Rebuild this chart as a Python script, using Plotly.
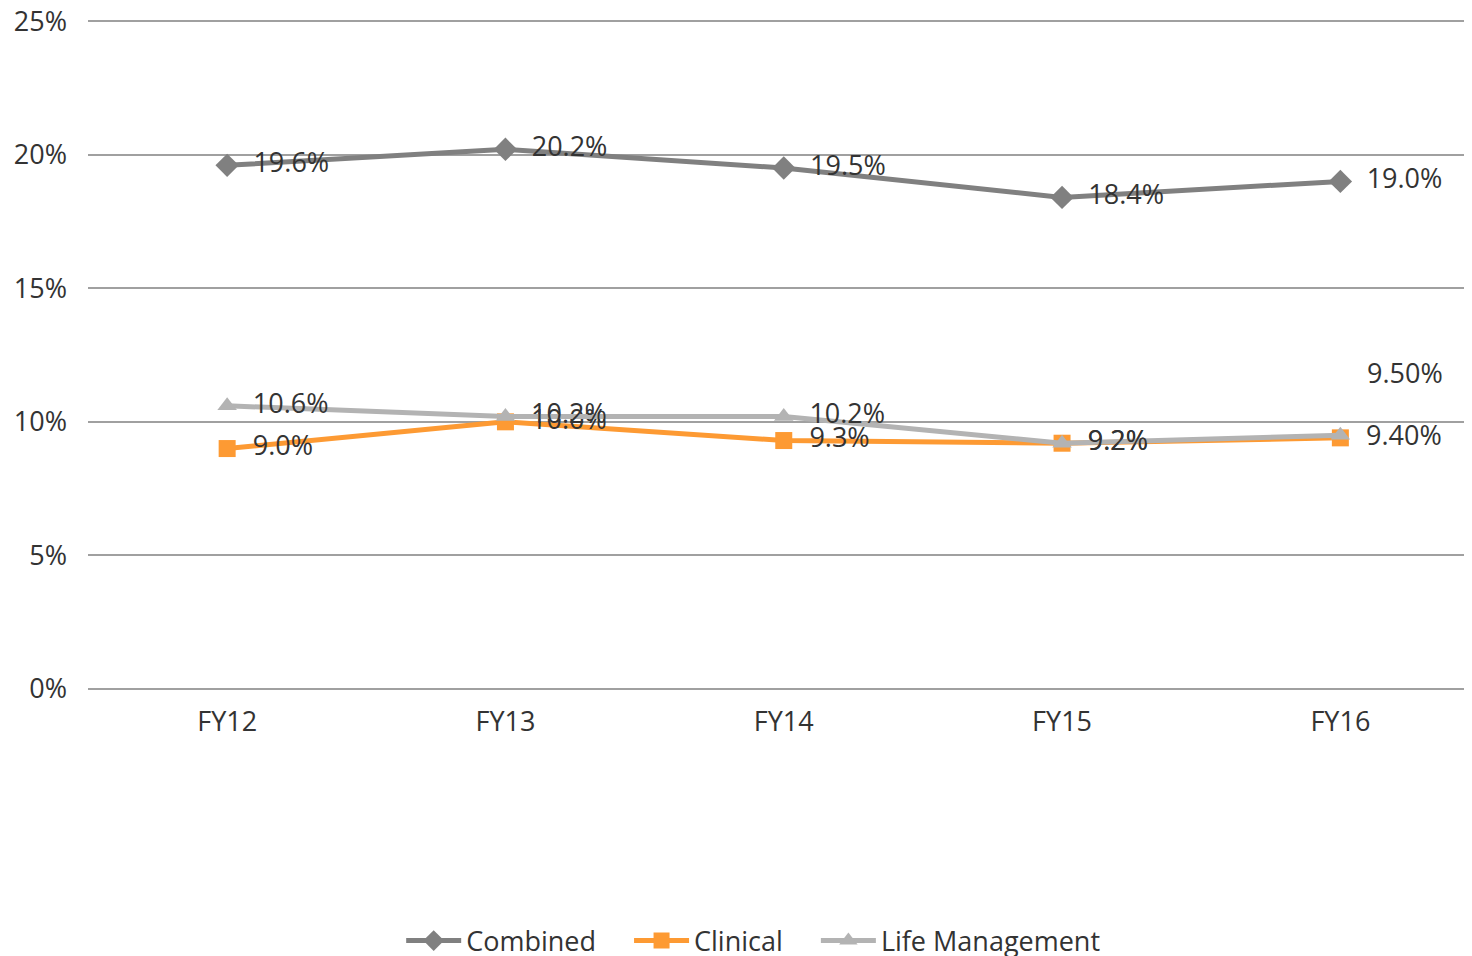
import plotly.graph_objects as go

years = ["FY12", "FY13", "FY14", "FY15", "FY16"]

combined = [19.6, 20.2, 19.5, 18.4, 19.0]
combined_labels = ["19.6%", "20.2%", "19.5%", "18.4%", "19.0%"]

clinical = [9.0, 10.0, 9.3, 9.2, 9.4]
clinical_labels = ["9.0%", "10.0%", "9.3%", "9.2%", "9.40%"]

life_mgmt = [10.6, 10.2, 10.2, 9.2, 9.5]
life_labels = ["10.6%", "10.2%", "10.2%", "9.2%", "9.50%"]

FONT = "Open Sans"
TEXT_COLOR = "#333333"
PAD = "\u00a0\u00a0"  # gap between marker and its label
GAP = "\u00a0" * 4    # space between legend items

fig = go.Figure()

fig.add_trace(go.Scatter(
    x=years, y=combined, name="Combined" + GAP, mode="lines+markers+text",
    line=dict(color="#808080", width=5),
    marker=dict(symbol="diamond", size=18, color="#808080"),
    text=combined_labels, texttemplate=PAD + "%{text}", textposition="middle right",
    textfont=dict(size=27, color=TEXT_COLOR, family=FONT),
))
fig.add_trace(go.Scatter(
    x=years, y=clinical, name="Clinical" + GAP, mode="lines+markers+text",
    line=dict(color="#fd9a33", width=5),
    marker=dict(symbol="square", size=17, color="#fd9a33"),
    text=clinical_labels, texttemplate=PAD + "%{text}", textposition="middle right",
    textfont=dict(size=27, color=TEXT_COLOR, family=FONT),
))
# last Life Management label sits well above its point, drawn as annotation
fig.add_trace(go.Scatter(
    x=years, y=life_mgmt, name="Life Management", mode="lines+markers+text",
    line=dict(color="#b3b3b3", width=5),
    marker=dict(symbol="triangle-up", size=17, color="#b3b3b3"),
    text=life_labels[:-1] + [""], texttemplate=PAD + "%{text}", textposition="middle right",
    textfont=dict(size=27, color=TEXT_COLOR, family=FONT),
))
fig.add_annotation(
    x=years[-1], y=life_mgmt[-1], text=life_labels[-1], showarrow=False,
    xanchor="left", xshift=25, yshift=63,
    font=dict(size=27, color=TEXT_COLOR, family=FONT),
)

# page body adds an 8px margin, so the figure is sized to end at the window edge;
# legend uses container refs so it doesn't push the bottom margin
fig.update_layout(
    width=1464, height=948,
    margin=dict(l=80, r=0, t=4, b=267),
    paper_bgcolor="white", plot_bgcolor="white",
    font=dict(family=FONT, size=27, color=TEXT_COLOR),
    showlegend=True,
    legend=dict(
        orientation="h", xref="container", yref="container",
        x=0.509, y=0.0158, xanchor="center", yanchor="middle",
        font=dict(size=27, color=TEXT_COLOR, family=FONT),
        itemwidth=55,
    ),
    xaxis=dict(
        range=[-0.5, 4.473], showgrid=False, zeroline=False, showline=False,
        ticks="", ticklabelstandoff=14, automargin=False,
    ),
    yaxis=dict(
        range=[0, 25.34], tick0=0, dtick=5, ticksuffix="%", showgrid=True,
        gridcolor="#a0a0a0", gridwidth=2, zeroline=True, zerolinecolor="#a0a0a0",
        zerolinewidth=2, showline=False, ticks="", ticklabelstandoff=20,
        ticklabeloverflow="allow", automargin=False,
    ),
)

fig.write_html("out.html")
